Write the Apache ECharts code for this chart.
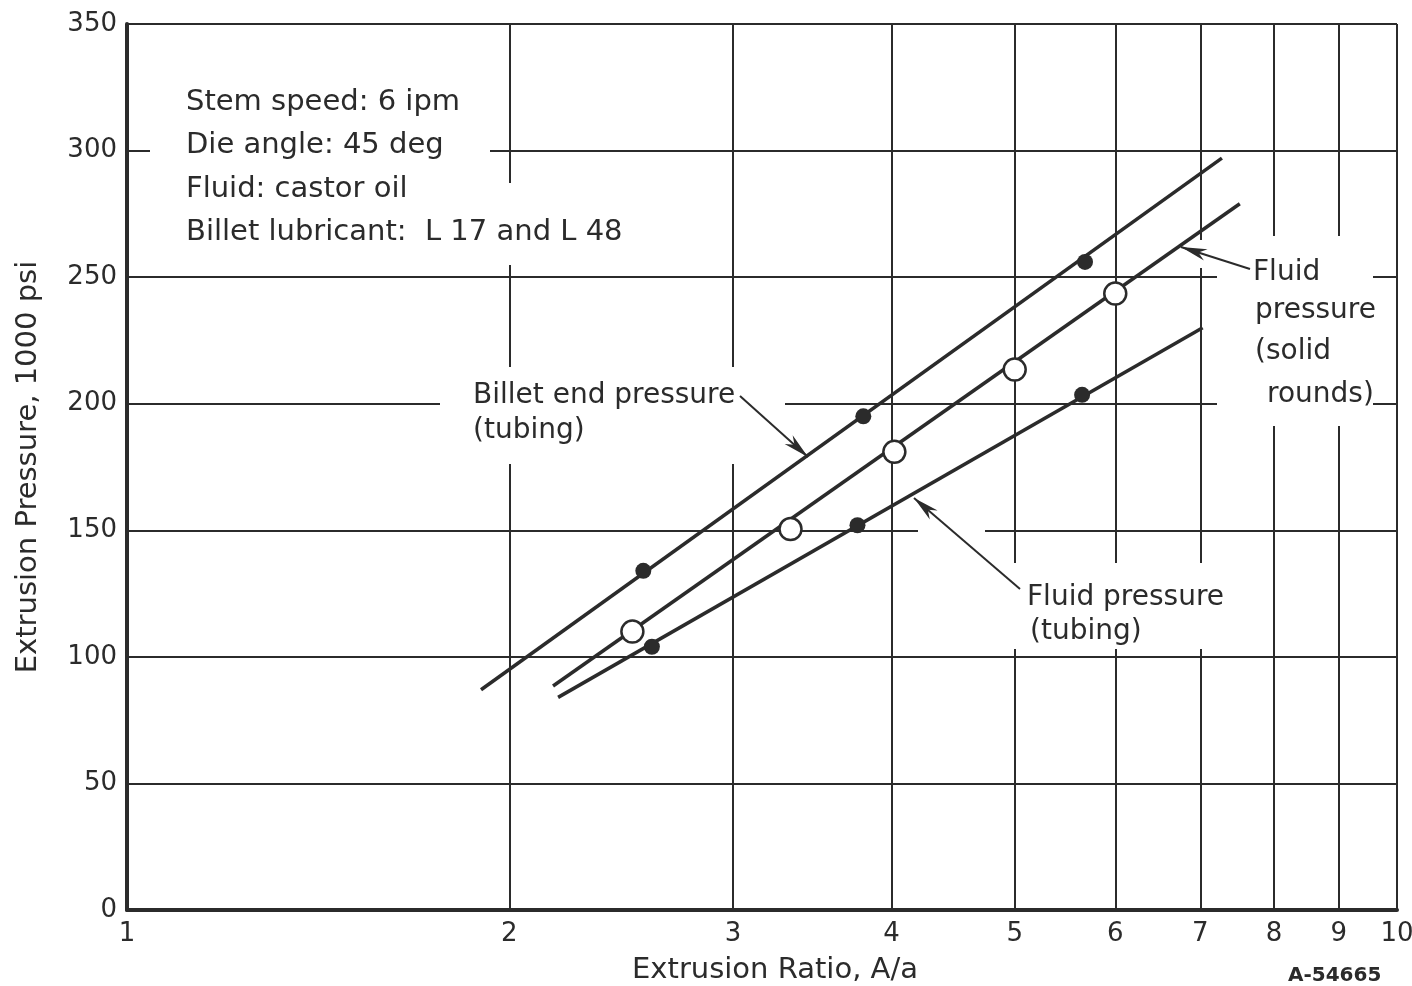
<!DOCTYPE html>
<html>
<head>
<meta charset="utf-8">
<title>Extrusion Pressure vs Extrusion Ratio</title>
<script src="https://cdn.jsdelivr.net/npm/echarts@6/dist/echarts.min.js"></script>
<style>
	html, body { margin: 0; padding: 0; background: #fff; }
	#chart { width: 1412px; height: 986px; }
</style>
</head>
<body>
<div id="chart"></div>
<script>
// 数据
var ratioTicks = [2, 3, 4, 5, 6, 7, 8, 9];

// Billet end pressure (tubing) - 实心点
var billetX = [2.55, 3.80, 5.68];
var billetY = [134, 195, 256];
var billetLineX = [1.90, 7.28];
var billetLineY = [87, 297];

// Fluid pressure (solid rounds) - 空心圆
var solidX = [2.50, 3.33, 4.02, 5.00, 6.00];
var solidY = [110, 150.5, 181, 213.5, 243.5];
var solidLineX = [2.165, 7.52];
var solidLineY = [88.5, 279];

// Fluid pressure (tubing) - 实心点
var tubingX = [2.59, 3.76, 5.65];
var tubingY = [104, 152, 203.5];
var tubingLineX = [2.185, 7.03];
var tubingLineY = [84, 230];

var notes = ['Stem speed: 6 ipm', 'Die angle: 45 deg', 'Fluid: castor oil', 'Billet lubricant:  L 17 and L 48'];

(function(){
	var ink = '#2b2b2b';
	var font = '"DejaVu Sans", sans-serif';
	var myChart = echarts.init(document.getElementById('chart'));

	function pairs(xs, ys) {
		var out = [];
		for (var i = 0; i < xs.length; i++) out.push([xs[i], ys[i]]);
		return out;
	}

	// 白色遮罩: 文字区域处网格线断开
	function mask(x, y, w, h) {
		return { type: 'rect', z: 2, silent: true, shape: { x: x, y: y, width: w, height: h }, style: { fill: '#fff' } };
	}
	function text(str, x, y, size, bold) {
		return { type: 'text', z: 10, silent: true, style: {
			text: str, x: x, y: y, fill: ink, verticalAlign: 'middle',
			font: (bold ? 'bold ' : '') + size + 'px ' + font
		}};
	}
	// 箭头: 线 + 三角头
	function arrow(x1, y1, x2, y2) {
		var dx = x2 - x1, dy = y2 - y1, len = Math.sqrt(dx * dx + dy * dy);
		var ux = dx / len, uy = dy / len, L = 26, W = 6;
		var bx = x2 - ux * L, by = y2 - uy * L;
		return [
			{ type: 'line', z: 10, silent: true, shape: { x1: x1, y1: y1, x2: x2, y2: y2 }, style: { stroke: ink, lineWidth: 2 } },
			{ type: 'polygon', z: 10, silent: true, shape: { points: [[x2, y2], [bx - uy * W, by + ux * W], [x2 - ux * L * 0.7, y2 - uy * L * 0.7], [bx + uy * W, by - ux * W]] }, style: { fill: ink } }
		];
	}

	var graphics = [
		mask(150, 72, 340, 175),
		mask(150, 183, 510, 82),
		mask(440, 367, 345, 97),
		mask(918, 518, 67, 22),
		mask(1000, 563, 245, 86),
		mask(1217, 236, 156, 190),
		mask(1190, 240, 24, 28)
	];
	for (var i = 0; i < notes.length; i++) {
		graphics.push(text(notes[i], 186, 102 + i * 43.5, 29));
	}
	graphics.push(text('Billet end pressure', 473, 396, 28));
	graphics.push(text('(tubing)', 473, 431, 28));
	graphics.push(text('Fluid', 1253, 273, 28));
	graphics.push(text('pressure', 1255, 311, 28));
	graphics.push(text('(solid', 1255, 352, 28));
	graphics.push(text('rounds)', 1267, 395, 28));
	graphics.push(text('Fluid pressure', 1027, 598, 28));
	graphics.push(text('(tubing)', 1030, 632, 28));
	graphics.push(text('A-54665', 1288, 976, 20, true));
	graphics = graphics
		.concat(arrow(740, 396, 808, 457))
		.concat(arrow(1250, 269, 1181, 247))
		.concat(arrow(1020, 589, 914, 498));

	var lineStyle = { color: ink, width: 3.5 };

	var option = {
		animation: false,
		textStyle: { fontFamily: font, color: ink },
		grid: { left: 127, right: 15, top: 24, bottom: 76, outerBoundsMode: 'none', containLabel: false },
		xAxis: {
			type: 'log', logBase: 10, min: 1, max: 10,
			name: 'Extrusion Ratio, A/a', nameLocation: 'middle', nameGap: 46,
			nameTextStyle: { fontSize: 29, color: ink, padding: [0, 0, 0, 26] },
			axisLine: { show: true, lineStyle: { color: ink, width: 4 } },
			axisTick: { show: false },
			axisLabel: { fontSize: 26, color: ink, margin: 11 },
			splitLine: { show: true, lineStyle: { color: ink, width: 2 } }
		},
		yAxis: {
			type: 'value', min: 0, max: 350, interval: 50,
			name: 'Extrusion Pressure, 1000 psi', nameLocation: 'middle', nameGap: 84,
			nameTextStyle: { fontSize: 29, color: ink },
			axisLine: { show: true, lineStyle: { color: ink, width: 4 } },
			axisTick: { show: false },
			axisLabel: { fontSize: 26, color: ink, margin: 10 },
			splitLine: { show: true, lineStyle: { color: ink, width: 2 } }
		},
		series: [
			{
				// 对数轴 2..9 网格线及刻度标签
				type: 'scatter', data: [], z: 1, silent: true,
				markLine: {
					z: 1, silent: true, symbol: 'none', animation: false,
					lineStyle: { color: ink, width: 2, type: 'solid' },
					label: { show: true, position: 'start', distance: 11, fontSize: 26, color: ink, formatter: function(p){ return p.value; } },
					data: ratioTicks.map(function(v){ return { xAxis: v }; })
				}
			},
			{ name: 'Billet end pressure (tubing)', type: 'line', z: 5, symbol: 'none', lineStyle: lineStyle, data: pairs(billetLineX, billetLineY) },
			{ name: 'Fluid pressure (solid rounds)', type: 'line', z: 5, symbol: 'none', lineStyle: lineStyle, data: pairs(solidLineX, solidLineY) },
			{ name: 'Fluid pressure (tubing)', type: 'line', z: 5, symbol: 'none', lineStyle: lineStyle, data: pairs(tubingLineX, tubingLineY) },
			{ type: 'scatter', z: 6, symbolSize: 16, itemStyle: { color: ink, opacity: 1 }, data: pairs(billetX, billetY) },
			{ type: 'scatter', z: 6, symbolSize: 16, itemStyle: { color: ink, opacity: 1 }, data: pairs(tubingX, tubingY) },
			{ type: 'scatter', z: 6, symbolSize: 22, itemStyle: { color: '#fff', borderColor: ink, borderWidth: 2.5, opacity: 1 }, data: pairs(solidX, solidY) }
		],
		graphic: { elements: graphics }
	};

	myChart.setOption(option, true);
	window.onresize = myChart.resize;
}());
</script>
</body>
</html>
